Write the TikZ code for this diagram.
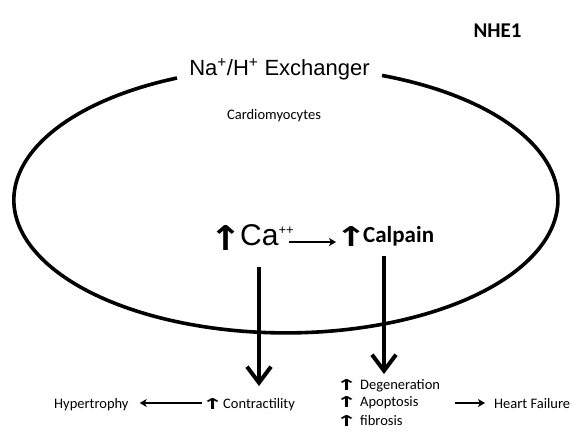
\documentclass[tikz,border=0pt]{standalone}
\usepackage{fontspec}
\usepackage{graphicx}
\setmainfont{Carlito}
\newfontfamily\arialf{Liberation Sans}
\newfontfamily\arrf{DejaVu Sans}
\usetikzlibrary{arrows.meta}
\newcommand{\upar}[2]{\resizebox{#1}{#2}{\arrf\bfseries ↑}}
\begin{document}
\begin{tikzpicture}[x=1pt,y=1pt,
  txt/.style={inner sep=0pt, anchor=base west},
  ctxt/.style={inner sep=0pt, anchor=base},
  bigarrow/.style={line width=4pt, -{Straight Barb[length=16pt,width=24pt]}},
  thinarrow/.style={line width=1.6pt, -{Stealth[length=7pt,width=8pt,inset=2pt]}},
  small/.style={font=\fontsize{14.5}{14.5}\selectfont},
]
\useasboundingbox (0,0) rectangle (580,-432);
% cell membrane
\draw[line width=3.6pt] (177,-78) arc[start angle=113.6, end angle=429.3, x radius=272pt, y radius=133pt];
% texts
\node[ctxt] (title) at (279.5,-75) {\arialf\fontsize{22}{22}\selectfont Na\textsuperscript{+}/H\textsuperscript{+} Exchanger};
\node[ctxt] (cardio) at (274,-119) {\fontsize{14.5}{14.5}\selectfont Cardiomyocytes};
\node[ctxt] (nhe) at (497.5,-37) {\bfseries\fontsize{21}{21}\selectfont NHE1};
\node[txt] (caup) at (209.5,-250) {\upar{33pt}{25pt}};
\node[txt] (ca) at (240,-245) {\arialf\fontsize{30}{30}\selectfont Ca\raisebox{11pt}{\fontsize{13}{13}\selectfont ++}};
\node[txt] (calup) at (335,-246) {\upar{32pt}{20pt}};
\node[txt] (calpain) at (363,-242) {\bfseries\fontsize{23}{23}\selectfont Calpain};
\draw[thinarrow] ([xshift=-5pt,yshift=3pt]ca.base east) -- ([xshift=1pt,yshift=4pt]calup.base west);
% vertical arrows
\coordinate (v1s) at (259,-267);
\coordinate (v1e) at (259,-386);
\coordinate (v2s) at (384,-256);
\coordinate (v2e) at (384,-374);
\draw[bigarrow] (v1s) -- (v1e);
\draw[bigarrow] (v2s) -- (v2e);
% bottom row
\node[txt, small] (hyper) at (54,-408) {Hypertrophy};
\node[txt] (contrup) at (201.5,-409) {\upar{22pt}{11pt}};
\node[txt, small] (contr) at (223,-408) {Contractility};
\draw[thinarrow] ([xshift=0pt,yshift=6pt]contrup.base west) -- ([xshift=11pt,yshift=5pt]hyper.base east);
\node[txt] (degup) at (335.5,-390) {\upar{22pt}{11pt}};
\node[txt, small] (degen) at (360,-389) {Degeneration};
\node[txt] (apoup) at (335.5,-407) {\upar{22pt}{11pt}};
\node[txt, small] (apo) at (360,-406) {Apoptosis};
\node[txt] (fibup) at (335.5,-426) {\upar{22pt}{11pt}};
\node[txt, small] (fib) at (360,-425) {fibrosis};
\node[txt, small] (hf) at (494,-408) {Heart Failure};
\draw[thinarrow] ([xshift=-39pt,yshift=5pt]hf.base west) -- ([xshift=-9pt,yshift=5pt]hf.base west);
\end{tikzpicture}
\end{document}
